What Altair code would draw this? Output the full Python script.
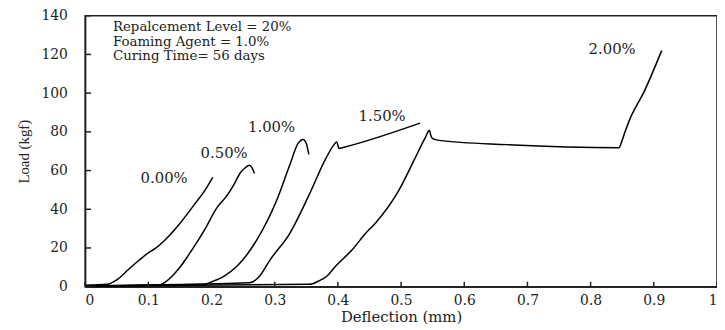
import altair as alt
import pandas as pd

# Load-deflection curves (deflection mm, load kgf)
x_000 = [0.0, 0.035, 0.05, 0.069, 0.085, 0.1, 0.11, 0.126, 0.147, 0.173, 0.189, 0.202]
y_000 = [0.8, 1.2, 3.5, 9.0, 13.5, 17.5, 19.5, 24.0, 31.5, 42.5, 49.5, 56.5]

x_050 = [0.0, 0.115, 0.125, 0.136, 0.15, 0.1625, 0.189, 0.209, 0.218, 0.222, 0.235, 0.246, 0.253, 0.26, 0.264, 0.268]
y_050 = [0.3, 0.8, 2.0, 4.9, 10.0, 15.8, 29.3, 41.0, 44.5, 46.0, 52.5, 59.0, 61.3, 62.7, 61.5, 58.5]

x_100 = [0.0, 0.185, 0.2, 0.22, 0.241, 0.272, 0.303, 0.324, 0.337, 0.345, 0.35, 0.354]
y_100 = [0.3, 0.8, 2.5, 5.5, 10.8, 24.3, 44.5, 63.0, 74.0, 76.1, 74.0, 68.4]

x_150 = [0.0, 0.26, 0.275, 0.293, 0.324, 0.355, 0.381, 0.394, 0.398, 0.402, 0.407, 0.53]
y_150 = [0.5, 2.0, 5.0, 14.0, 27.6, 47.8, 66.3, 73.4, 74.8, 71.4, 71.8, 84.5]

x_200 = [0.0, 0.355, 0.37, 0.381, 0.397, 0.423, 0.444, 0.459, 0.496, 0.522, 0.5375, 0.545, 0.547,
         0.55, 0.56, 0.668, 0.845, 0.847, 0.849, 0.86, 0.886, 0.9125]
y_200 = [0.3, 1.2, 3.0, 5.0, 10.8, 19.2, 27.6, 32.7, 49.5, 66.3, 76.5, 80.7, 78.2,
         76.5, 75.6, 73.4, 71.8, 72.8, 74.8, 84.9, 101.7, 122.0]

series_names = ["0.00%", "0.50%", "1.00%", "1.50%", "2.00%"]
label_x = [0.125, 0.22, 0.295, 0.47, 0.834]
label_y = [56.1, 68.9, 82.4, 88.3, 122.8]

note_lines = ["Repalcement Level = 20%", "Foaming Agent = 1.0%", "Curing Time= 56 days"]
note_x = [0.044, 0.044, 0.044]
note_y = [133.9, 126.5, 119.3]

x_ticks = [0, 0.1, 0.2, 0.3, 0.4, 0.5, 0.6, 0.7, 0.8, 0.9, 1.0]
y_ticks = [0, 20, 40, 60, 80, 100, 120, 140]

rows = []
for name, xs, ys in zip(series_names, [x_000, x_050, x_100, x_150, x_200],
                        [y_000, y_050, y_100, y_150, y_200]):
    for i, (a, b) in enumerate(zip(xs, ys)):
        rows.append({"series": name, "order": i, "defl": a, "load": b})
df = pd.DataFrame(rows)
labels_df = pd.DataFrame({"series": series_names, "defl": label_x, "load": label_y})
notes_df = pd.DataFrame({"txt": note_lines, "defl": note_x, "load": note_y})
xt_df = pd.DataFrame({"defl": x_ticks})
yt_df = pd.DataFrame({"load": y_ticks})

FONT = "DejaVu Serif"
xscale = alt.Scale(domain=[0, 1], nice=False)
yscale = alt.Scale(domain=[0, 140], nice=False)

x_axis = alt.Axis(values=x_ticks, labelExpr="format(datum.value, '~g')", tickSize=0,
                  labelFont=FONT, labelFontSize=14, labelColor="#222", labelPadding=7,
                  labelOverlap=False,
                  title="Deflection (mm)", titleFont=FONT, titleFontSize=15,
                  titleFontWeight="normal", titleColor="#222", titlePadding=2,
                  domainColor="#222", domainWidth=1.5, grid=False)
y_axis = alt.Axis(values=y_ticks, tickSize=0, labelFont=FONT, labelFontSize=14,
                  labelColor="#222", labelPadding=18, labelOverlap=False,
                  title="Load (kgf)", titleFont="Liberation Serif", titleFontSize=15,
                  titleFontWeight="normal", titleColor="#222", titlePadding=10,
                  domainColor="#222", domainWidth=1.5, grid=False)

X = alt.X("defl:Q", scale=xscale, axis=x_axis, title="Deflection (mm)")
Y = alt.Y("load:Q", scale=yscale, axis=y_axis, title="Load (kgf)")

lines = alt.Chart(df).mark_line(color="black", strokeWidth=1.5, interpolate="monotone").encode(
    x=X, y=Y, detail="series:N", order="order:Q",
)

labels = alt.Chart(labels_df).mark_text(font=FONT, fontSize=15, color="#222",
                                        align="center", baseline="middle").encode(
    x=X, y=Y, text="series:N")

notes = alt.Chart(notes_df).mark_text(font=FONT, fontSize=13.5, color="#222",
                                      align="left", baseline="middle").encode(
    x=X, y=Y, text="txt:N")

xticks = alt.Chart(xt_df).mark_rule(color="#222", strokeWidth=1.5).encode(
    x=X, y=alt.value(274), y2=alt.value(269))
yticks = alt.Chart(yt_df).mark_rule(color="#222", strokeWidth=1.5).encode(
    y=Y, x=alt.value(0), x2=alt.value(6))

chart = alt.layer(lines, labels, notes, xticks, yticks).properties(
    width=639, height=274,
    autosize=alt.AutoSizeParams(type="none"),
    padding={"left": 78, "top": 6, "right": 0, "bottom": 42},
    background="white",
).configure_view(stroke="#222", strokeWidth=1.5).configure_axis(labelOverlap=False)

chart.save("out.html", embed_options={"renderer": "svg", "actions": False})
